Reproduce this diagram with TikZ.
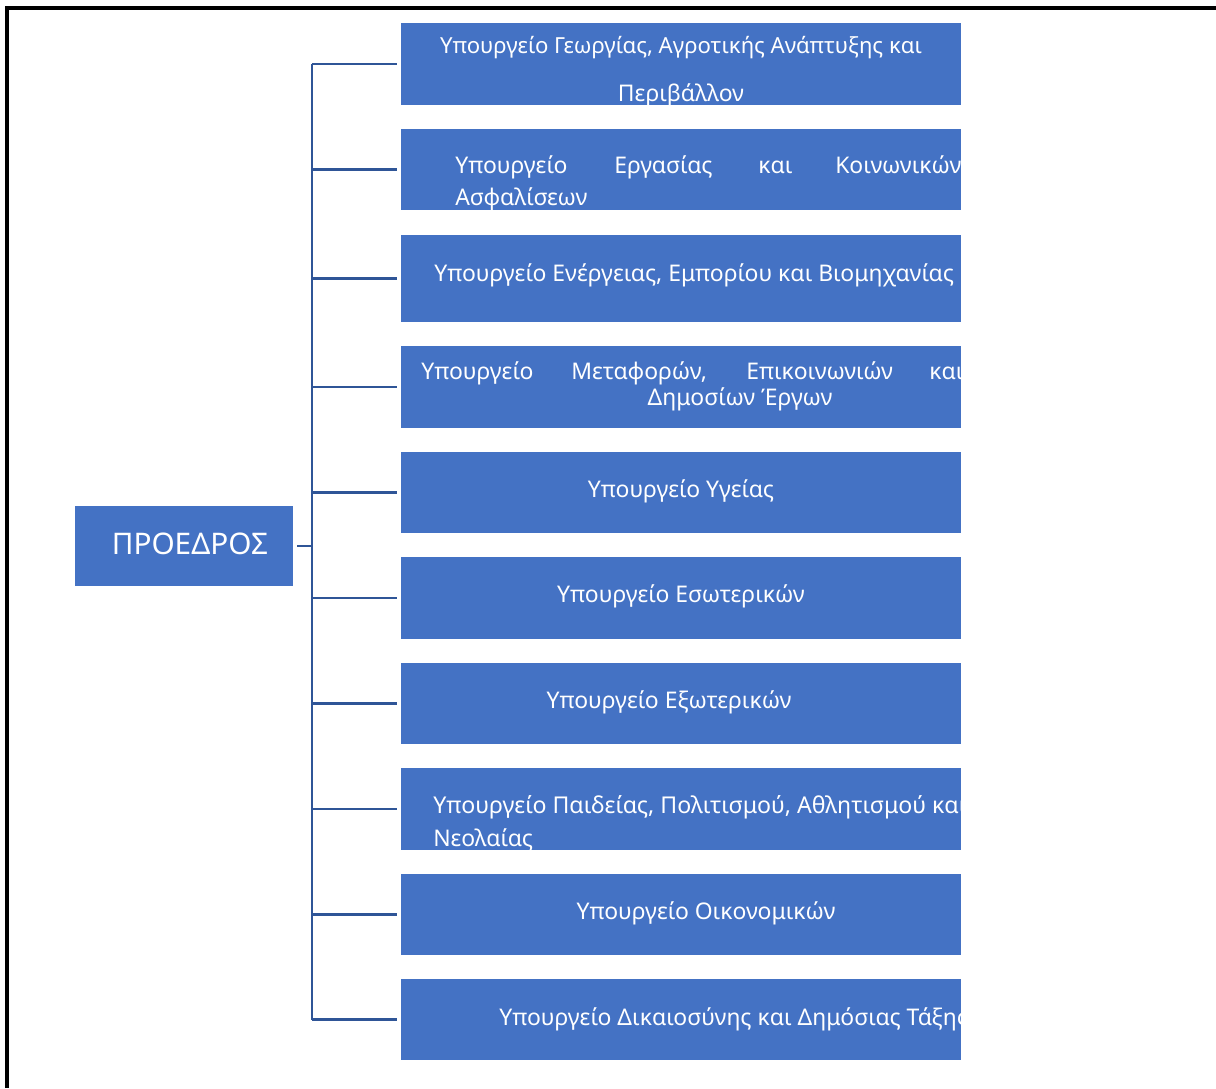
\documentclass[tikz,border=0pt]{standalone}
\usepackage{fontspec}
\setmainfont{Noto Sans}
\definecolor{boxblue}{HTML}{4472C4}
\definecolor{lineblue}{HTML}{2F5597}
\tikzset{
  mbox/.style={fill=boxblue, minimum width=420pt, minimum height=61pt, inner sep=0pt},
  pbox/.style={fill=boxblue, minimum width=163.5pt, minimum height=60pt, inner sep=0pt},
  txt/.style={text=white, font=\fontsize{17.2}{20}\selectfont, inner sep=0pt},
  link/.style={draw=lineblue, line width=2.2pt},
}
\begin{document}
\begin{tikzpicture}[x=0.75pt,y=-0.75pt]
  \useasboundingbox (0,0) rectangle (1216,1088);
  % frame
  \draw[line width=3pt] (7,1088) -- (7,8) -- (1216,8);

  % president
  \node[pbox] (pres) at (184,546) {};
  \node[txt, font=\fontsize{22.3}{26}\selectfont, anchor=base] (prestxt) at (190,554) {ΠΡΟΕΔΡΟΣ};

  % ministries
  \node[mbox] (m1) at (681,64) {};
  \node[mbox] (m2) at (681,169.5) {};
  \node[mbox, minimum height=65pt] (m3) at (681,278.5) {};
  \node[mbox] (m4) at (681,387) {};
  \node[mbox] (m5) at (681,492.5) {};
  \node[mbox] (m6) at (681,598) {};
  \node[mbox] (m7) at (681,703.5) {};
  \node[mbox] (m8) at (681,809) {};
  \node[mbox] (m9) at (681,914.5) {};
  \node[mbox] (m10) at (681,1019.5) {};

  \begin{scope}
    \clip (m1.south west) rectangle (m1.north east);
    \node[txt, font=\fontsize{16.6}{20}\selectfont, anchor=base] (t1a) at (681,54) {Υπουργείο Γεωργίας, Αγροτικής Ανάπτυξης και};
    \node[txt, anchor=base] (t1b) at (681,101) {Περιβάλλον};
  \end{scope}
  \begin{scope}
    \clip (m2.south west) rectangle (m2.north east);
    \node[txt, anchor=base west] (t2a) at (455,173) {Υπουργείο};
    \node[txt, anchor=base west] (t2b) at (614,173) {Εργασίας};
    \node[txt, anchor=base west] (t2c) at (758,173) {και};
    \node[txt, anchor=base west] (t2d) at (835,173) {Κοινωνικών};
    \node[txt, anchor=base west] (t2e) at (455,205) {Ασφαλίσεων};
  \end{scope}
  \begin{scope}
    \clip (m3.south west) rectangle (m3.north east);
    \node[txt, anchor=base west] (t3) at (434,281) {Υπουργείο Ενέργειας, Εμπορίου και Βιομηχανίας};
  \end{scope}
  \begin{scope}
    \clip (m4.south west) rectangle (m4.north east);
    \node[txt, anchor=base west] (t4a) at (421,379) {Υπουργείο};
    \node[txt, anchor=base west] (t4b) at (571,379) {Μεταφορών,};
    \node[txt, anchor=base west] (t4c) at (746,379) {Επικοινωνιών};
    \node[txt, anchor=base west] (t4d) at (929,379) {και};
    \node[txt, anchor=base] (t4e) at (740,405) {Δημοσίων Έργων};
  \end{scope}
  \node[txt, anchor=base] (t5) at (681,497) {Υπουργείο Υγείας};
  \node[txt, anchor=base] (t6) at (681,602) {Υπουργείο Εσωτερικών};
  \node[txt, anchor=base] (t7) at (669,708) {Υπουργείο Εξωτερικών};
  \begin{scope}
    \clip (m8.south west) rectangle (m8.north east);
    \node[txt, font=\fontsize{17.35}{20}\selectfont, anchor=base west] (t8a) at (433,813) {Υπουργείο Παιδείας, Πολιτισμού, Αθλητισμού και};
    \node[txt, anchor=base west] (t8b) at (433,846) {Νεολαίας};
  \end{scope}
  \node[txt, anchor=base] (t9) at (706,919) {Υπουργείο Οικονομικών};
  \begin{scope}
    \clip (m10.south west) rectangle (m10.north east);
    \node[txt, anchor=base west] (t10) at (499,1025) {Υπουργείο Δικαιοσύνης και Δημόσιας Τάξης};
  \end{scope}

  % connectors
  \coordinate (trunk) at (312,546);
  \draw[link] ([xshift=3pt]pres.east) -- (trunk);
  \draw[link] (trunk |- m1.west) -- (trunk |- m10.west);
  \foreach \i in {1,...,10}
    \draw[link] (trunk |- m\i.west) -- ([xshift=-2.5pt]m\i.west);
\end{tikzpicture}
\end{document}
